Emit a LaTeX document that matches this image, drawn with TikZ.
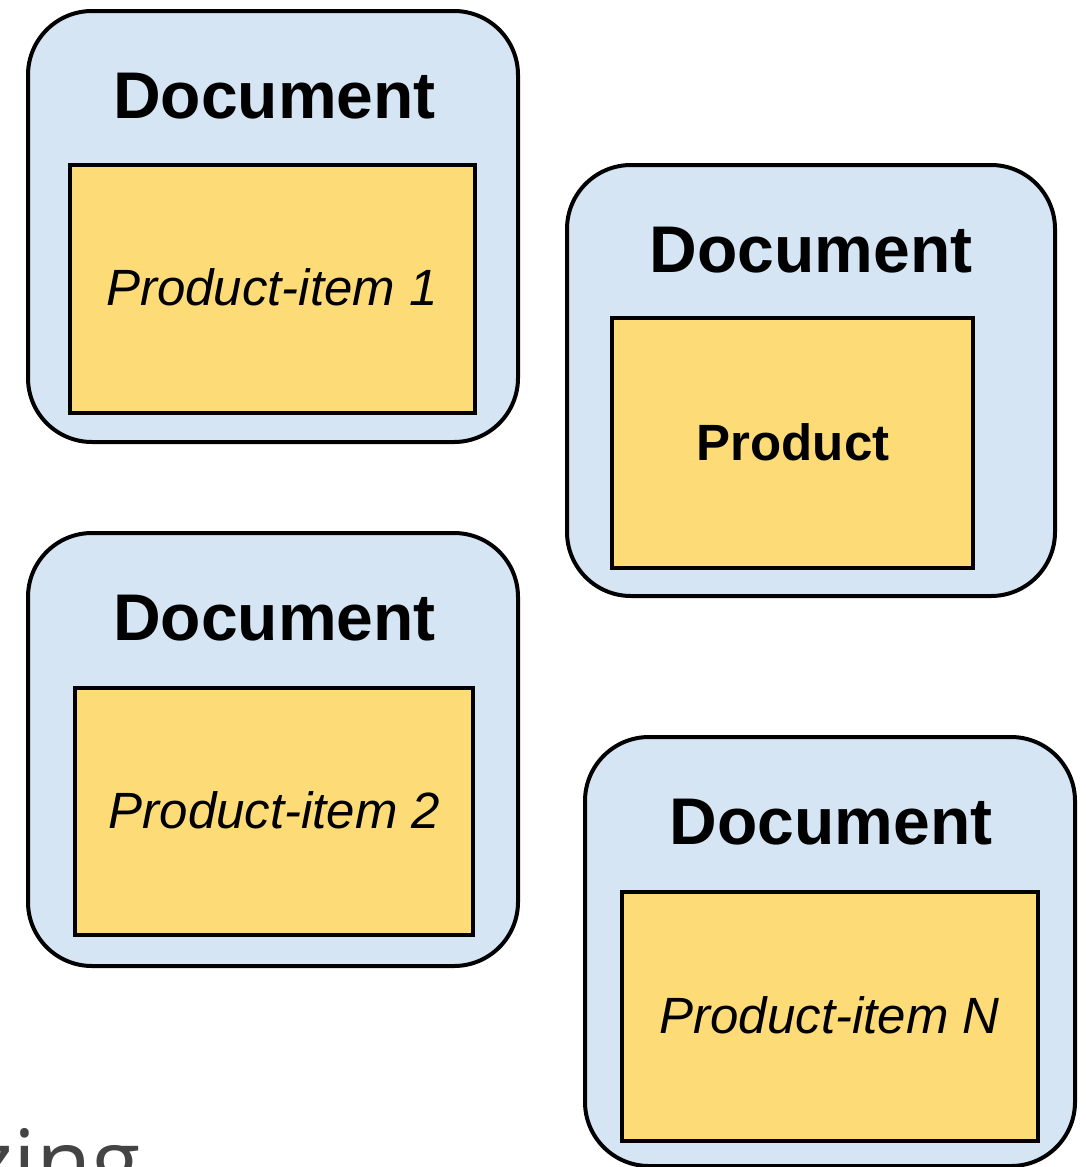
\documentclass[tikz,border=0pt]{standalone}
\usepackage{fontspec}
\setmainfont{Liberation Sans}
\newfontfamily\labelfont{Open Sans}
\definecolor{docblue}{HTML}{D6E5F4}
\definecolor{itemyellow}{HTML}{FDDC78}
\definecolor{captiongray}{HTML}{444444}
\begin{document}
\begin{tikzpicture}[x=0.5pt,y=-0.5pt,
  docbox/.style={draw=black,fill=docblue,line width=2pt,rounded corners=32pt,inner sep=0pt},
  itembox/.style={draw=black,fill=itemyellow,line width=1.8pt,inner sep=0pt},
  doctitle/.style={anchor=base,inner sep=0pt,font=\fontsize{33pt}{40pt}\selectfont\bfseries},
  itemtext/.style={anchor=base,inner sep=0pt,font=\fontsize{25.5pt}{30pt}\selectfont\itshape},
  prodtext/.style={anchor=base,inner sep=0pt,font=\fontsize{25.5pt}{30pt}\selectfont\bfseries},
  caption/.style={anchor=base west,inner sep=0pt,text=captiongray,font=\labelfont\fontsize{45pt}{54pt}\selectfont}]
\useasboundingbox (0,0) rectangle (1086,1167);
\clip (0,0) rectangle (1086,1167);
% Box 1
\node[docbox,minimum width=245pt,minimum height=215.5pt] (doc1) at (273,226.5) {};
\node[itembox,minimum width=202.5pt,minimum height=124pt] (item1) at (272.5,289) {};
\node[doctitle] (doc1title) at (274.5,118) {Document};
\node[itemtext] (item1text) at (272,305) {Product-item 1};
% Box 2
\node[docbox,minimum width=244pt,minimum height=215.5pt] (doc2) at (811,380.5) {};
\node[itembox,minimum width=180.5pt,minimum height=125pt] (item2) at (792.5,443) {};
\node[doctitle] (doc2title) at (811,272) {Document};
\node[prodtext] (item2text) at (793,460) {Product};
% Box 3
\node[docbox,minimum width=245pt,minimum height=216.5pt] (doc3) at (273,749.5) {};
\node[itembox,minimum width=199pt,minimum height=123.5pt] (item3) at (274,811.5) {};
\node[doctitle] (doc3title) at (274.5,640) {Document};
\node[itemtext] (item3text) at (274.5,828) {Product-item 2};
% Box 4
\node[docbox,minimum width=245pt,minimum height=214.5pt] (doc4) at (830,951.5) {};
\node[itembox,minimum width=208pt,minimum height=124.5pt] (item4) at (830,1016.5) {};
\node[doctitle] (doc4title) at (831,844) {Document};
\node[itemtext] (item4text) at (829.5,1033) {Product-item N};
% cut-off caption, as in the reference
\node[caption] (captiontext) at (-29,1194) {zing};
\end{tikzpicture}
\end{document}
